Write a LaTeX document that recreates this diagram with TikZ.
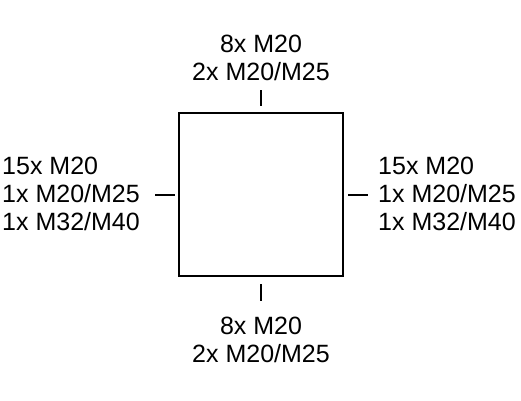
\documentclass[tikz,border=0pt]{standalone}
\usepackage{fontspec}
\setmainfont{Liberation Sans}
\begin{document}
\begin{tikzpicture}[x=1pt,y=1pt,
  lbl/.style={font=\fontsize{25}{28}\selectfont, inner sep=0pt},
  ln/.style={line width=1.5pt, black}]
\useasboundingbox (0,0) rectangle (521,400);
\node[draw, line width=1.5pt, minimum width=164pt, minimum height=163pt, inner sep=0pt] (box) at (261,205.5) {};
\node[lbl, align=center] (top) at (261,342) {8x M20\\2x M20/M25};
\node[lbl, align=center] (bot) at (261,60) {8x M20\\2x M20/M25};
\node[lbl, align=left, anchor=west] (left) at (2,206) {15x M20\\1x M20/M25\\1x M32/M40};
\node[lbl, align=left, anchor=west] (right) at (378,206) {15x M20\\1x M20/M25\\1x M32/M40};
\coordinate (t1) at (261,310); \coordinate (t2) at (261,294);
\coordinate (b1) at (261,116); \coordinate (b2) at (261,99);
\coordinate (l1) at (155,205); \coordinate (l2) at (175,205);
\coordinate (r1) at (348,205); \coordinate (r2) at (368,205);
\draw[ln] (t1) -- (t2);
\draw[ln] (b1) -- (b2);
\draw[ln] (l1) -- (l2);
\draw[ln] (r1) -- (r2);
\end{tikzpicture}
\end{document}
